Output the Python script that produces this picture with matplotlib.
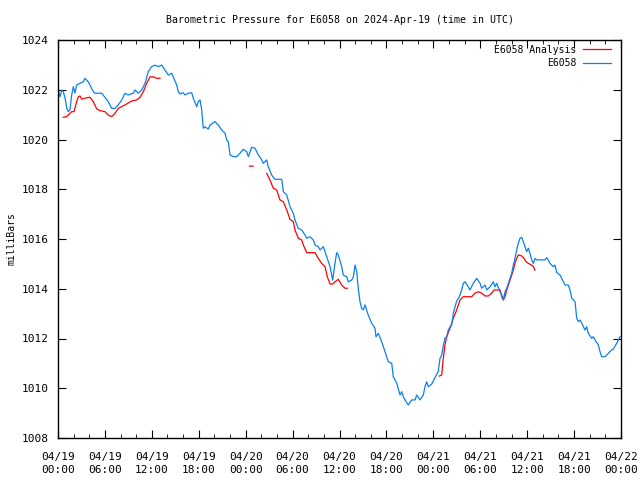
import matplotlib
matplotlib.use("Agg")
import matplotlib.pyplot as plt
import matplotlib.dates as mdates
import numpy as np
from datetime import datetime, timedelta

plt.rcParams['font.family'] = ['DejaVu Sans Mono']
plt.rcParams['font.size'] = 7

start = datetime(2024, 4, 19)

# E6058 observations: hours since 04/19 00:00 UTC, pressure (mb)
obs_hours = [0.00, 0.26, 0.47, 0.68, 0.90, 1.11, 1.32, 1.53, 1.75, 1.96, 2.17, 2.39, 2.81, 3.24,
             3.45, 3.87, 4.09, 4.51, 4.73, 5.59, 6.43, 6.87, 7.29, 7.71, 8.15, 8.57, 8.99, 9.63,
             9.85, 10.27, 10.70, 11.13, 11.55, 11.98, 12.40, 12.83, 13.26, 13.68, 14.11, 14.54,
             14.87, 15.18, 15.38, 15.60, 16.02, 16.24, 16.66, 17.10, 17.30, 17.74, 17.94, 18.16,
             18.38, 18.58, 18.80, 19.22, 19.44, 20.08, 20.50, 20.94, 21.36, 21.57, 21.78, 22.00,
             22.42, 22.85, 23.28, 23.70, 24.13, 24.34, 24.77, 25.19, 25.62, 26.05, 26.26, 26.69,
             26.89, 27.33, 27.75, 28.61, 28.82, 29.25, 29.67, 30.09, 30.31, 30.73, 31.17, 31.59,
             31.81, 32.23, 32.65, 32.87, 33.29, 33.51, 33.93, 34.36, 34.79, 35.13, 35.42, 35.64,
             35.85, 36.28, 36.49, 36.92, 37.13, 37.56, 37.77, 37.98, 38.20, 38.40, 38.62, 38.84,
             39.04, 39.26, 39.68, 40.12, 40.54, 40.67, 40.96, 41.40, 41.82, 42.24, 42.68, 42.88,
             43.32, 43.74, 43.96, 44.16, 44.59, 44.80, 45.23, 45.66, 45.87, 46.30, 46.72, 46.93,
             47.15, 47.36, 47.79, 48.21, 48.64, 48.85, 49.07, 49.27, 49.49, 49.71, 49.91, 50.13,
             50.35, 50.55, 50.77, 50.99, 51.32, 51.41, 51.63, 51.83, 52.05, 52.47, 52.69, 53.11,
             53.55, 53.97, 54.19, 54.61, 54.83, 55.25, 55.67, 55.89, 56.10, 56.53, 56.75, 56.95,
             57.17, 57.39, 57.81, 58.02, 58.23, 58.44, 58.66, 58.87, 59.08, 59.30, 59.51, 59.72,
             59.94, 60.15, 60.36, 60.58, 60.79, 61.00, 61.22, 61.64, 62.28, 62.50, 62.70, 62.92,
             63.34, 63.56, 63.78, 64.20, 64.42, 64.84, 65.26, 65.48, 65.70, 66.12, 66.34, 66.54,
             66.76, 66.98, 67.40, 67.61, 67.82, 68.25, 68.46, 68.68, 69.10, 69.32, 69.53, 69.96,
             70.38, 70.81, 71.01, 71.45, 71.87]
obs_mb = [1021.99, 1021.72, 1021.99, 1021.92, 1021.67, 1021.27, 1021.12, 1021.19, 1021.79, 1022.12,
          1021.87, 1022.19, 1022.26, 1022.32, 1022.46, 1022.32, 1022.19, 1021.92, 1021.86, 1021.86,
          1021.52, 1021.25, 1021.25, 1021.39, 1021.59, 1021.86, 1021.79, 1021.86, 1021.99, 1021.86,
          1021.99, 1022.26, 1022.73, 1022.93, 1022.99, 1022.93, 1022.99, 1022.79, 1022.59, 1022.66,
          1022.42, 1022.19, 1021.92, 1021.83, 1021.88, 1021.79, 1021.86, 1021.88, 1021.66, 1021.32,
          1021.52, 1021.59, 1021.19, 1020.45, 1020.51, 1020.42, 1020.58, 1020.72, 1020.58, 1020.38,
          1020.25, 1019.98, 1019.91, 1019.38, 1019.31, 1019.31, 1019.45, 1019.61, 1019.51, 1019.31,
          1019.69, 1019.65, 1019.38, 1019.18, 1019.04, 1019.18, 1018.91, 1018.57, 1018.40, 1018.40,
          1017.90, 1017.77, 1017.30, 1017.03, 1016.76, 1016.43, 1016.36, 1016.16, 1016.03, 1016.09,
          1015.96, 1015.76, 1015.69, 1015.56, 1015.69, 1015.29, 1014.89, 1014.35, 1015.02, 1015.45,
          1015.36, 1014.89, 1014.55, 1014.48, 1014.28, 1014.35, 1014.48, 1014.95, 1014.69, 1014.02,
          1013.48, 1013.21, 1013.15, 1013.35, 1012.94, 1012.61, 1012.41, 1012.07, 1012.21, 1011.87,
          1011.47, 1011.07, 1011.00, 1010.46, 1010.20, 1009.73, 1009.86, 1009.66, 1009.42, 1009.33,
          1009.53, 1009.53, 1009.73, 1009.53, 1009.73, 1010.06, 1010.26, 1010.06, 1010.17, 1010.43,
          1010.69, 1011.20, 1011.34, 1011.70, 1012.02, 1012.07, 1012.34, 1012.46, 1012.54, 1013.01,
          1013.27, 1013.51, 1013.68, 1013.75, 1013.95, 1014.22, 1014.28, 1014.08, 1013.95, 1014.22,
          1014.42, 1014.22, 1014.02, 1014.15, 1013.95, 1014.08, 1014.28, 1014.08, 1014.22, 1013.88,
          1013.75, 1013.55, 1013.88, 1014.02, 1014.42, 1014.62, 1014.95, 1015.22, 1015.56, 1015.83,
          1016.03, 1016.07, 1015.89, 1015.69, 1015.49, 1015.63, 1015.42, 1015.16, 1015.02, 1015.22,
          1015.16, 1015.16, 1015.16, 1015.25, 1015.16, 1015.02, 1014.89, 1014.95, 1014.65, 1014.55,
          1014.42, 1014.15, 1014.15, 1013.95, 1013.62, 1013.48, 1012.81, 1012.68, 1012.74, 1012.61,
          1012.34, 1012.47, 1012.21, 1012.01, 1012.07, 1011.94, 1011.74, 1011.47, 1011.27, 1011.27,
          1011.40, 1011.54, 1011.57, 1011.81, 1012.07]

# E6058 Analysis: gaps marked with nan
ana_hours = [0.68, 1.11, 1.75, 2.05, 2.39, 2.60, 2.81, 3.03, 3.45, 4.09, 4.51, 4.95, 5.37, 6.01,
             6.43, 6.87, 7.29, 7.71, 8.57, 9.43, 10.06, 10.49, 10.91, 11.34, 11.77, 12.19, 12.62,
             13.04, 13.30,
             24.49, 24.94, 25.2,
             26.69, 27.11, 27.53, 27.97, 28.39, 28.81, 29.25, 29.67, 30.09, 30.31, 30.73, 31.17,
             31.37, 31.81, 32.23, 32.87, 33.29, 33.72, 34.15, 34.44, 34.79, 35.13, 35.42, 35.85,
             36.28, 36.70, 37.00, 37.3,
             48.76, 49.07, 49.27, 49.49, 49.71, 50.13, 50.35, 50.55, 50.99, 51.41, 51.83, 52.90,
             53.32, 53.75, 54.19, 54.61, 55.03, 55.46, 55.76, 56.53, 56.75, 56.95, 57.17, 57.39,
             57.60, 57.81, 58.23, 58.44, 58.66, 58.87, 59.30, 59.60, 59.85, 60.15, 60.58, 60.79,
             61.00]
ana_mb = [1020.89, 1020.92, 1021.12, 1021.12, 1021.52, 1021.72, 1021.75, 1021.62, 1021.66, 1021.70,
          1021.52, 1021.23, 1021.16, 1021.12, 1020.98, 1020.92, 1021.05, 1021.25, 1021.39, 1021.55,
          1021.59, 1021.70, 1021.92, 1022.26, 1022.52, 1022.52, 1022.46, 1022.46, np.nan,
          1018.93, 1018.93, np.nan,
          1018.64, 1018.37, 1018.04, 1017.97, 1017.57, 1017.50, 1017.17, 1016.79, 1016.70, 1016.36,
          1016.03, 1015.96, 1015.76, 1015.45, 1015.45, 1015.45, 1015.22, 1015.02, 1014.89, 1014.48,
          1014.19, 1014.19, 1014.28, 1014.38, 1014.15, 1014.02, 1014.02, np.nan,
          1010.49, 1010.53, 1011.20, 1011.74, 1012.07, 1012.41, 1012.61, 1012.81, 1013.15, 1013.55,
          1013.68, 1013.68, 1013.82, 1013.88, 1013.82, 1013.71, 1013.71, 1013.82, 1013.95, 1013.95,
          1013.68, 1013.55, 1013.68, 1013.95, 1014.15, 1014.35, 1014.75, 1015.02, 1015.22, 1015.36,
          1015.32, 1015.22, 1015.09, 1015.02, 1014.95, 1014.89, 1014.75]

obs_t = [start + timedelta(hours=h) for h in obs_hours]
ana_t = [start + timedelta(hours=h) for h in ana_hours]

fig = plt.figure(figsize=(6.4, 4.8), dpi=100)
ax = fig.add_axes([58/640, 42/480, 563/640, 398/480])

ax.plot(ana_t, ana_mb, color='#ff0000', lw=0.9, label='E6058 Analysis')
ax.plot(obs_t, obs_mb, color='#0a80f0', lw=0.9, label='E6058')

ax.set_xlim(start, start + timedelta(hours=72))
ax.set_ylim(1008, 1024)
ax.set_yticks(np.arange(1008, 1025, 2))
ax.xaxis.set_major_locator(mdates.HourLocator(byhour=[0, 6, 12, 18]))
ax.xaxis.set_minor_locator(mdates.HourLocator(byhour=range(0, 24, 2)))
ax.xaxis.set_major_formatter(mdates.DateFormatter('%m/%d\n%H:%M'))
ax.tick_params(which='both', direction='in', top=True, right=True, colors='black')
ax.tick_params(which='major', length=6, labelsize=8)
ax.tick_params(which='minor', length=3)
ax.tick_params(axis='x', which='major', pad=10)
ax.tick_params(axis='y', which='major', pad=7)
for lbl in ax.get_xticklabels():
    lbl.set_linespacing(1.4)
for s in ax.spines.values():
    s.set_linewidth(1.0)

ax.set_title('Barometric Pressure for E6058 on 2024-Apr-19 (time in UTC)', fontsize=7.1, pad=12.5)
ax.set_ylabel('milliBars')
ax.yaxis.set_label_coords(-0.074, 0.5)

ax.legend(loc='upper right', bbox_to_anchor=(1 - 5/563, 1), frameon=False, markerfirst=False,
          handlelength=2.9, borderaxespad=0.3, labelspacing=0.35, handletextpad=0.7, borderpad=0.2)

fig.savefig('out.png', dpi=100)
